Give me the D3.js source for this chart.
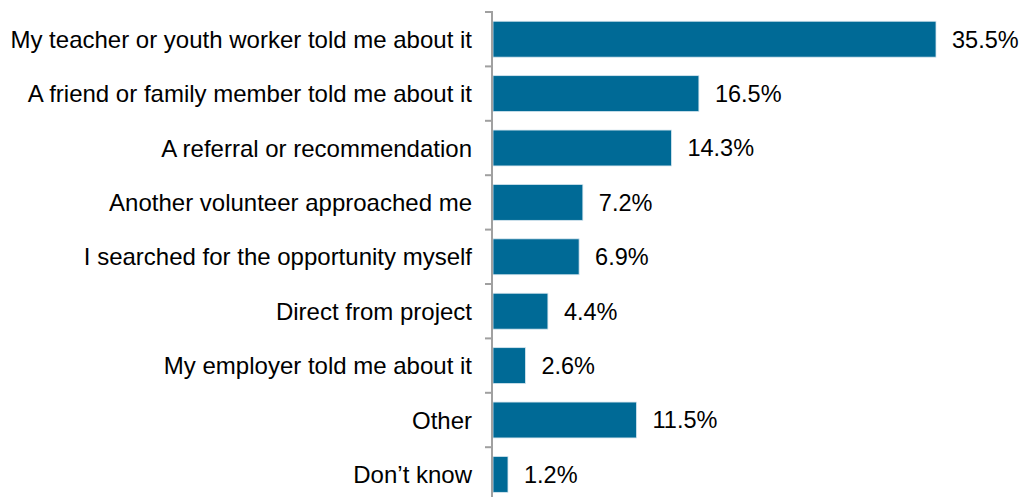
<!DOCTYPE html>
<html>
<head>
<meta charset="utf-8">
<script src="https://cdn.jsdelivr.net/npm/d3@7"></script>
<style>
  body { margin: 0; background: #fff; }
  svg text { font-family: "Liberation Sans", Arial, sans-serif; fill: #000; }
</style>
</head>
<body>
<div id="chart"></div>
<script>
// Data
var categories = [
	"My teacher or youth worker told me about it",
	"A friend or family member told me about it",
	"A referral or recommendation",
	"Another volunteer approached me",
	"I searched for the opportunity myself",
	"Direct from project",
	"My employer told me about it",
	"Other",
	"Don\u2019t know"
];
var values = [35.5, 16.5, 14.3, 7.2, 6.9, 4.4, 2.6, 11.5, 1.2];

var width = 1022,
	height = 497;

var svg = d3.select("#chart")
	.append("svg")
	.attr("width", width)
	.attr("height", height);

// Scales
var x = d3.scaleLinear().domain([0, 35.5]).range([493, 936]);
var y = d3.scaleBand().domain(categories).range([12, 12 + 54.4 * 9]).paddingInner(0.34).paddingOuter(0.17);

// Bars
svg.selectAll("rect.bar")
	.data(values)
	.enter()
	.append("rect")
	.attr("class", "bar")
	.attr("x", x(0))
	.attr("y", function(d, i) { return y(categories[i]); })
	.attr("width", function(d) { return x(d) - x(0); })
	.attr("height", y.bandwidth())
	.attr("fill", "#006a96")
	.attr("stroke", "#d6e6ef")
	.attr("stroke-width", 0.8);

// Value labels
svg.selectAll("text.val")
	.data(values)
	.enter()
	.append("text")
	.attr("class", "val")
	.attr("x", function(d) { return x(d) + 16; })
	.attr("y", function(d, i) { return y(categories[i]) + y.bandwidth() / 2; })
	.attr("dy", "0.36em")
	.attr("font-size", "23.5px")
	.text(function(d) { return d.toFixed(1) + "%"; });

// Category labels
svg.selectAll("text.cat")
	.data(categories)
	.enter()
	.append("text")
	.attr("class", "cat")
	.attr("x", 472)
	.attr("y", function(d) { return y(d) + y.bandwidth() / 2; })
	.attr("dy", "0.36em")
	.attr("text-anchor", "end")
	.attr("font-size", "24px")
	.text(function(d) { return d; });

// Axis line with ticks at band boundaries
var step = y.step();
var ticks = d3.range(10).map(function(i) { return 12 + i * step; });
svg.append("line")
	.attr("x1", 492).attr("x2", 492)
	.attr("y1", 12).attr("y2", height)
	.attr("stroke", "#a0a0a0")
	.attr("stroke-width", 2);
svg.selectAll("line.tick")
	.data(ticks)
	.enter()
	.append("line")
	.attr("class", "tick")
	.attr("x1", 485).attr("x2", 493)
	.attr("y1", function(d) { return d; })
	.attr("y2", function(d) { return d; })
	.attr("stroke", "#a0a0a0")
	.attr("stroke-width", 2);
</script>
</body>
</html>
